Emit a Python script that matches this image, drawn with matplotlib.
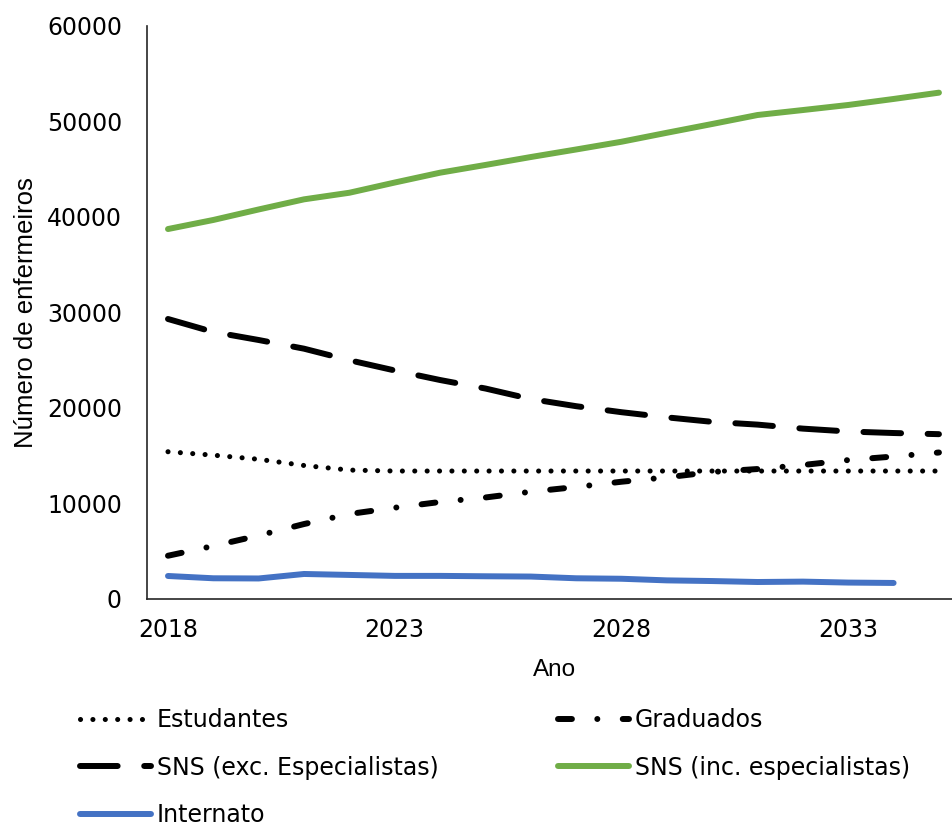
import matplotlib
matplotlib.use("Agg")
import matplotlib.pyplot as plt

# Nurse workforce projections by year
years = list(range(2018, 2036))
estudantes = [15420, 15060, 14630, 13980, 13500, 13400, 13400, 13400, 13400,
              13400, 13400, 13400, 13400, 13400, 13400, 13400, 13400, 13400]
graduados = [4530, 5550, 6650, 7850, 8900, 9560, 10160, 10630, 11230,
             11730, 12280, 12740, 13300, 13610, 14030, 14550, 14920, 15340]
sns_exc = [29320, 27960, 27120, 26210, 25000, 23930, 22930, 22040, 20940,
           20190, 19560, 19020, 18550, 18260, 17840, 17540, 17380, 17260]
sns_inc = [38740, 39690, 40790, 41850, 42540, 43610, 44640, 45450, 46280,
           47070, 47880, 48820, 49740, 50680, 51200, 51730, 52360, 53020]
internato_years = list(range(2018, 2035))
internato = [2410, 2170, 2150, 2620, 2520, 2420, 2420, 2380, 2350,
             2170, 2120, 1950, 1880, 1780, 1820, 1720, 1680]

y_ticks = [0, 10000, 20000, 30000, 40000, 50000, 60000]
x_ticks = [2018, 2023, 2028, 2033]
labels = ["Estudantes", "Graduados", "SNS (exc. Especialistas)",
          "SNS (inc. especialistas)", "Internato"]

TICK_FONT = "DejaVu Sans"
TITLE_FONT = "Liberation Sans"
FS = 17

fig = plt.figure(figsize=(9.53, 8.27), dpi=100)
ax = fig.add_axes([147 / 953, 1 - 599 / 827, 1 - 147 / 953, (599 - 26) / 827])

lw = 4.3
l_est, = ax.plot(years, estudantes, color="black", lw=lw * 0.85,
                 linestyle=(0, (0.01, 2.43)), dash_capstyle="round",
                 solid_capstyle="round")
l_grad, = ax.plot(years, graduados, color="black", lw=lw,
                  linestyle=(0, (2.33, 4.25, 0.01, 4.25)),
                  dash_capstyle="round")
l_exc, = ax.plot(years, sns_exc, color="black", lw=lw,
                 linestyle=(0, (6.3, 4.45)), dash_capstyle="round")
l_inc, = ax.plot(years, sns_inc, color="#70AD47", lw=lw,
                 solid_capstyle="round", solid_joinstyle="round")
l_int, = ax.plot(internato_years, internato, color="#4472C4", lw=lw,
                 solid_capstyle="round", solid_joinstyle="round")

ax.set_xlim(2017.537, 2035.31)
ax.set_ylim(0, 60000)
ax.set_xticks(x_ticks)
ax.set_yticks(y_ticks)
ax.set_xticklabels([str(v) for v in x_ticks], fontsize=FS, family=TICK_FONT)
ax.set_yticklabels([str(v) for v in y_ticks], fontsize=FS, family=TICK_FONT)
ax.tick_params(axis="both", length=0)
ax.tick_params(axis="y", pad=18)
ax.tick_params(axis="x", pad=14)

for side in ("top", "right"):
    ax.spines[side].set_visible(False)
for side in ("left", "bottom"):
    ax.spines[side].set_color("#262626")
    ax.spines[side].set_linewidth(1.2)

ax.set_ylabel("Número de enfermeiros", fontsize=18.5, family=TITLE_FONT)
ax.yaxis.label.set_va("center")
ax.yaxis.set_label_coords(-0.150, 0.5)
ax.set_xlabel("Ano", fontsize=17.5, family=TITLE_FONT)
ax.xaxis.label.set_va("center")
ax.xaxis.set_label_coords(0.506, -0.124)

handles = [l_est, l_exc, l_int, l_grad, l_inc]
hlabels = [labels[0], labels[2], labels[4], labels[1], labels[3]]
leg = fig.legend(handles, hlabels, ncol=2, loc="upper left",
                 bbox_to_anchor=(80 / 953, 1 - 708 / 827),
                 frameon=False, handlelength=3.0, handletextpad=0.25,
                 columnspacing=5.07, labelspacing=1.0,
                 prop={"family": TICK_FONT, "size": FS},
                 borderaxespad=0, borderpad=0)

fig.savefig("out.png", dpi=100)
